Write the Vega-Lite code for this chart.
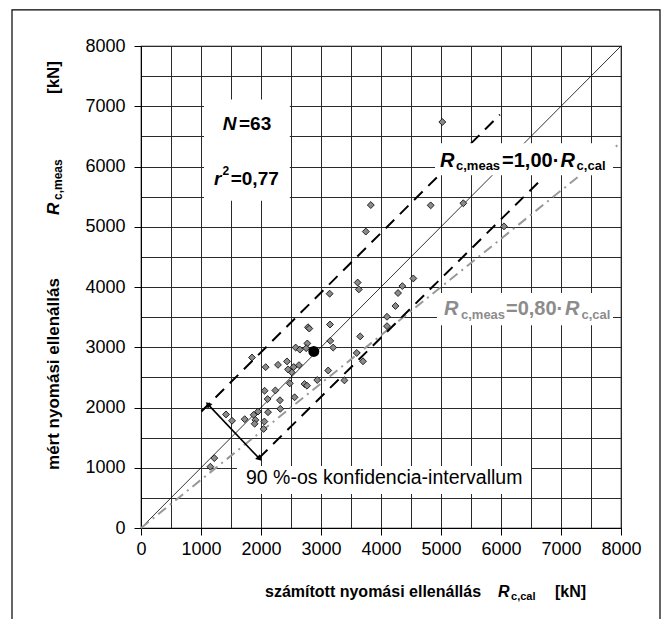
{
  "$schema": "https://vega.github.io/schema/vega-lite/v6.json",
  "width": 480,
  "height": 482,
  "autosize": {"type": "none"},
  "padding": {"left": 141, "top": 46, "right": 47, "bottom": 91},
  "background": "white",
  "config": {
    "font": "Liberation Sans",
    "view": {"stroke": "#000", "strokeWidth": 1.2},
    "axis": {
      "grid": true,
      "gridColor": "#2a2a2a",
      "gridWidth": 1,
      "domainColor": "#000",
      "tickColor": "#000",
      "tickSize": 7,
      "labelColor": "#000",
      "labelFontSize": 18,
      "labelFont": "Liberation Sans",
      "labelOverlap": false,
      "labelFlush": false,
      "format": "d",
      "title": null
    }
  },
  "encoding": {
    "x": {
      "field": "x", "type": "quantitative",
      "scale": {"domain": [0, 8000], "nice": false, "zero": false},
      "axis": {
        "values": [0, 500, 1000, 1500, 2000, 2500, 3000, 3500, 4000, 4500, 5000, 5500, 6000, 6500, 7000, 7500, 8000],
        "labelExpr": "datum.value % 1000 === 0 ? datum.label : ''",
        "tickOpacity": {"condition": {"test": "datum.value % 1000 === 0", "value": 1}, "value": 0},
        "labelPadding": 5
      }
    },
    "y": {
      "field": "y", "type": "quantitative",
      "scale": {"domain": [0, 8000], "nice": false, "zero": false},
      "axis": {
        "values": [0, 500, 1000, 1500, 2000, 2500, 3000, 3500, 4000, 4500, 5000, 5500, 6000, 6500, 7000, 7500, 8000],
        "labelExpr": "datum.value % 1000 === 0 ? datum.label : ''",
        "tickOpacity": {"condition": {"test": "datum.value % 1000 === 0", "value": 1}, "value": 0},
        "labelPadding": 9
      }
    }
  },
  "layer": [
    {
      "data": {"values": [{"x": 0, "y": 0}, {"x": 8000, "y": 8000}]},
      "mark": {"type": "line", "color": "#000", "strokeWidth": 0.8}
    },
    {
      "data": {"values": [{"x": 0, "y": 0}, {"x": 8000, "y": 6400}]},
      "mark": {"type": "line", "color": "#999", "strokeWidth": 2, "strokeDash": [10, 5, 2, 5]}
    },
    {
      "data": {"values": [
        {"s": "up", "x": 1006, "y": 1933}, {"s": "up", "x": 5983, "y": 6861},
        {"s": "lo", "x": 1965, "y": 1160}, {"s": "lo", "x": 6706, "y": 5817}
      ]},
      "mark": {"type": "line", "color": "#000", "strokeWidth": 2, "strokeDash": [12, 8]},
      "encoding": {"detail": {"field": "s"}}
    },
    {
      "data": {"values": [{"x": 1128, "y": 2040}, {"x": 1965, "y": 1160}]},
      "mark": {"type": "line", "color": "#000", "strokeWidth": 1.6}
    },
    {
      "data": {"values": [{"x": 1128, "y": 2040}]},
      "mark": {"type": "point", "shape": "triangle", "filled": true, "color": "#000", "size": 45, "angle": -45, "opacity": 1}
    },
    {
      "data": {"values": [{"x": 1965, "y": 1160}]},
      "mark": {"type": "point", "shape": "triangle", "filled": true, "color": "#000", "size": 45, "angle": 135, "opacity": 1}
    },
    {
      "data": {"values": [
        {"x": 1050, "x2": 2480, "y": 7110, "y2": 5430},
        {"x": 4900, "x2": 7867, "y": 6385, "y2": 5854},
        {"x": 4933, "x2": 7867, "y": 3902, "y2": 3366},
        {"x": 1600, "x2": 6500, "y": 1030, "y2": 564}
      ]},
      "mark": {"type": "rect", "fill": "#fff"},
      "encoding": {"x2": {"field": "x2"}, "y2": {"field": "y2"}}
    },
    {
      "data": {"values": [
        {"x": 1156, "y": 1017}, {"x": 1222, "y": 1160}, {"x": 1417, "y": 1885}, {"x": 1517, "y": 1780},
        {"x": 1728, "y": 1806}, {"x": 1878, "y": 1878}, {"x": 1906, "y": 1794}, {"x": 1950, "y": 1933},
        {"x": 2044, "y": 1644}, {"x": 2056, "y": 1767}, {"x": 2117, "y": 1922}, {"x": 2322, "y": 1978},
        {"x": 1894, "y": 1730}, {"x": 2110, "y": 2140}, {"x": 2316, "y": 2120}, {"x": 2060, "y": 2278},
        {"x": 2239, "y": 2283}, {"x": 2560, "y": 2170}, {"x": 2480, "y": 2400}, {"x": 2725, "y": 2390},
        {"x": 2767, "y": 2362}, {"x": 2938, "y": 2456}, {"x": 3120, "y": 2614}, {"x": 3390, "y": 2450},
        {"x": 2511, "y": 2585}, {"x": 2450, "y": 2633}, {"x": 2545, "y": 2672}, {"x": 2633, "y": 2703},
        {"x": 2433, "y": 2765}, {"x": 2283, "y": 2708}, {"x": 2078, "y": 2670}, {"x": 1850, "y": 2830},
        {"x": 2578, "y": 2995}, {"x": 2648, "y": 2961}, {"x": 2772, "y": 3063}, {"x": 2753, "y": 2984},
        {"x": 3203, "y": 2995}, {"x": 3155, "y": 3106}, {"x": 2783, "y": 3332}, {"x": 2805, "y": 3310},
        {"x": 3150, "y": 3377}, {"x": 3595, "y": 2905}, {"x": 3653, "y": 3180}, {"x": 3700, "y": 2767},
        {"x": 3144, "y": 3889}, {"x": 3630, "y": 3960}, {"x": 3611, "y": 4074}, {"x": 4100, "y": 3506},
        {"x": 4100, "y": 3350}, {"x": 4241, "y": 3685}, {"x": 4284, "y": 3900}, {"x": 4356, "y": 4015},
        {"x": 4539, "y": 4142}, {"x": 3747, "y": 4920}, {"x": 3830, "y": 5360}, {"x": 4828, "y": 5355},
        {"x": 5022, "y": 6739}, {"x": 5372, "y": 5390}, {"x": 6050, "y": 5006}
      ]},
      "mark": {"type": "point", "shape": "diamond", "filled": true, "fill": "#8a8a8a", "stroke": "#000", "strokeWidth": 0.8, "size": 48, "opacity": 1}
    },
    {
      "data": {"values": [{"x": 2880, "y": 2930}]},
      "mark": {"type": "point", "shape": "circle", "filled": true, "color": "#000", "size": 120, "opacity": 1}
    },
    {
      "data": {"values": [{"x": -2150, "x2": 8650, "y": 8598, "y2": -1900}]},
      "mark": {"type": "rect", "filled": false, "stroke": "#000", "strokeWidth": 1.2},
      "encoding": {"x2": {"field": "x2"}, "y2": {"field": "y2"}}
    },
    {
      "data": {"values": [
        {"t": "R", "x": 4983, "y": 5992}, {"t": "R", "x": 6990, "y": 5992}
      ]},
      "mark": {"type": "text", "fontSize": 20, "fontWeight": "bold", "fontStyle": "italic", "align": "left", "baseline": "alphabetic", "color": "#000"},
      "encoding": {"text": {"field": "t"}}
    },
    {
      "data": {"values": [
        {"t": "=1,00·", "x": 6017, "y": 5992}
      ]},
      "mark": {"type": "text", "fontSize": 20, "fontWeight": "bold", "align": "left", "baseline": "alphabetic", "color": "#000"},
      "encoding": {"text": {"field": "t"}}
    },
    {
      "data": {"values": [
        {"t": "c,meas", "x": 5250, "y": 5942}, {"t": "c,cal", "x": 7260, "y": 5942}
      ]},
      "mark": {"type": "text", "fontSize": 13, "fontWeight": "bold", "align": "left", "baseline": "alphabetic", "color": "#000"},
      "encoding": {"text": {"field": "t"}}
    },
    {
      "data": {"values": [
        {"t": "R", "x": 5050, "y": 3535}, {"t": "R", "x": 7067, "y": 3535}
      ]},
      "mark": {"type": "text", "fontSize": 20, "fontWeight": "bold", "fontStyle": "italic", "align": "left", "baseline": "alphabetic", "color": "#8c8c8c"},
      "encoding": {"text": {"field": "t"}}
    },
    {
      "data": {"values": [
        {"t": "=0,80·", "x": 6083, "y": 3535}
      ]},
      "mark": {"type": "text", "fontSize": 20, "fontWeight": "bold", "align": "left", "baseline": "alphabetic", "color": "#8c8c8c"},
      "encoding": {"text": {"field": "t"}}
    },
    {
      "data": {"values": [
        {"t": "c,meas", "x": 5333, "y": 3477}, {"t": "c,cal", "x": 7340, "y": 3477}
      ]},
      "mark": {"type": "text", "fontSize": 13, "fontWeight": "bold", "align": "left", "baseline": "alphabetic", "color": "#8c8c8c"},
      "encoding": {"text": {"field": "t"}}
    },
    {
      "data": {"values": [
        {"t": "N", "x": 1362, "y": 6606}, {"t": "r", "x": 1217, "y": 5693}
      ]},
      "mark": {"type": "text", "fontSize": 19, "fontWeight": "bold", "fontStyle": "italic", "align": "left", "baseline": "alphabetic", "color": "#000"},
      "encoding": {"text": {"field": "t"}}
    },
    {
      "data": {"values": [
        {"t": "=63", "x": 1633, "y": 6606}, {"t": "=0,77", "x": 1495, "y": 5693}
      ]},
      "mark": {"type": "text", "fontSize": 19, "fontWeight": "bold", "align": "left", "baseline": "alphabetic", "color": "#000"},
      "encoding": {"text": {"field": "t"}}
    },
    {
      "data": {"values": [
        {"t": "2", "x": 1358, "y": 5859}
      ]},
      "mark": {"type": "text", "fontSize": 12, "fontWeight": "bold", "align": "left", "baseline": "alphabetic", "color": "#000"},
      "encoding": {"text": {"field": "t"}}
    },
    {
      "data": {"values": [
        {"t": "90 %-os konfidencia-intervallum", "x": 1750, "y": 725}
      ]},
      "mark": {"type": "text", "fontSize": 19.5, "align": "left", "baseline": "alphabetic", "color": "#000"},
      "encoding": {"text": {"field": "t"}}
    },
    {
      "data": {"values": [
        {"t": "mért nyomási ellenállás", "x": -1367, "y": 963},
        {"t": "[kN]", "x": -1367, "y": 7203}
      ]},
      "mark": {"type": "text", "fontSize": 17, "fontWeight": "bold", "angle": 270, "align": "left", "baseline": "alphabetic", "color": "#000"},
      "encoding": {"text": {"field": "t"}}
    },
    {
      "data": {"values": [
        {"t": "R", "x": -1367, "y": 5195}
      ]},
      "mark": {"type": "text", "fontSize": 17, "fontWeight": "bold", "fontStyle": "italic", "angle": 270, "align": "left", "baseline": "alphabetic", "color": "#000"},
      "encoding": {"text": {"field": "t"}}
    },
    {
      "data": {"values": [
        {"t": "c,meas", "x": -1310, "y": 5444}
      ]},
      "mark": {"type": "text", "fontSize": 12, "fontWeight": "bold", "angle": 270, "align": "left", "baseline": "alphabetic", "color": "#000"},
      "encoding": {"text": {"field": "t"}}
    },
    {
      "data": {"values": [
        {"t": "számított nyomási ellenállás", "x": 2067, "y": -1145},
        {"t": "[kN]", "x": 6900, "y": -1145}
      ]},
      "mark": {"type": "text", "fontSize": 16, "fontWeight": "bold", "align": "left", "baseline": "alphabetic", "color": "#000"},
      "encoding": {"text": {"field": "t"}}
    },
    {
      "data": {"values": [
        {"t": "R", "x": 5950, "y": -1145}
      ]},
      "mark": {"type": "text", "fontSize": 16, "fontWeight": "bold", "fontStyle": "italic", "align": "left", "baseline": "alphabetic", "color": "#000"},
      "encoding": {"text": {"field": "t"}}
    },
    {
      "data": {"values": [
        {"t": "c,cal", "x": 6167, "y": -1195}
      ]},
      "mark": {"type": "text", "fontSize": 11, "fontWeight": "bold", "align": "left", "baseline": "alphabetic", "color": "#000"},
      "encoding": {"text": {"field": "t"}}
    }
  ]
}
